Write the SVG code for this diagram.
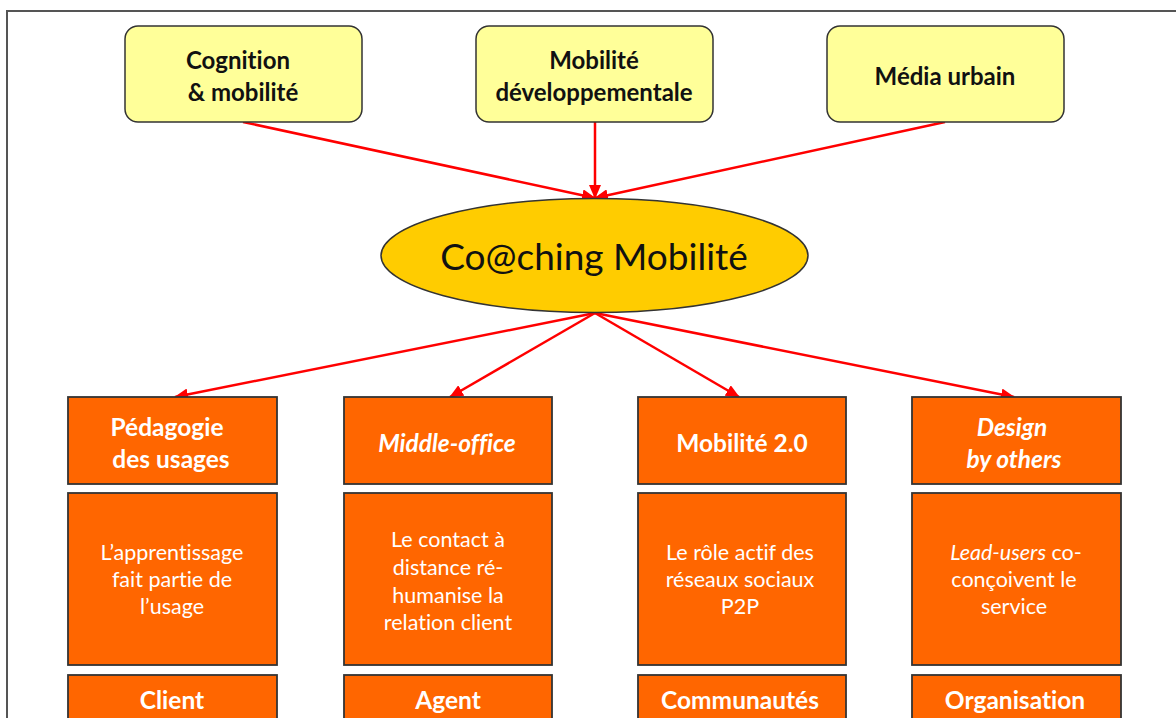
<svg xmlns="http://www.w3.org/2000/svg" width="1176" height="718" viewBox="0 0 1176 718">
<style>
text{font-variant-ligatures:none}
.frame{fill:none;stroke:#555;stroke-width:2}
.top rect{fill:#FFFF99;stroke:#333;stroke-width:1.5}
.top text{font-family:Lato,"Open Sans",sans-serif;font-weight:bold;font-size:24px;fill:#111;text-anchor:middle}
.hub ellipse{fill:#FFCC00;stroke:#333;stroke-width:1.5}
.hub text{font-family:Lato,"Open Sans",sans-serif;font-size:37px;fill:#111;text-anchor:middle}
.box rect{fill:#FF6600;stroke:#333;stroke-width:1.8}
.box text.h{font-family:Lato,"Open Sans",sans-serif;font-weight:bold;font-size:24.5px;fill:#fff;text-anchor:middle}
.box text.b{font-family:Lato,"Open Sans",sans-serif;font-size:21.5px;fill:#fff;text-anchor:middle}
.it{font-style:italic}
.conn line{stroke:#FF0000;stroke-width:2.5;marker-end:url(#ah)}
</style>
<defs>
<marker id="ah" markerUnits="userSpaceOnUse" markerWidth="14" markerHeight="12" viewBox="0 0 14 12" refX="13" refY="6" orient="auto">
<path d="M0,0 L14,6 L0,12 Z" fill="#FF0000"/>
</marker>
</defs>
<rect width="1176" height="718" fill="#fff"/>
<path class="frame" d="M7,718 L7,11 L1176,11"/>

<g class="conn" id="connectors">
<line x1="243" y1="122" x2="595" y2="198"/>
<line x1="595" y1="122" x2="595" y2="198"/>
<line x1="945" y1="122" x2="595" y2="198"/>
<line x1="595" y1="313" x2="175" y2="397"/>
<line x1="595" y1="313" x2="450" y2="397"/>
<line x1="595" y1="313" x2="739" y2="397"/>
<line x1="595" y1="313" x2="1014" y2="397"/>
</g>

<g class="top" id="n-cognition">
<rect x="125" y="26" width="237" height="96" rx="13"/>
<text x="238" y="69">Cognition</text>
<text x="243" y="101">&amp; mobilité</text>
</g>
<g class="top" id="n-mobdev">
<rect x="476" y="26" width="237" height="96" rx="13"/>
<text x="594" y="69">Mobilité</text>
<text x="594" y="101">développementale</text>
</g>
<g class="top" id="n-media">
<rect x="827" y="26" width="237" height="96" rx="13"/>
<text x="945" y="85">Média urbain</text>
</g>

<g class="hub" id="n-coaching">
<ellipse cx="594.5" cy="255.5" rx="213.5" ry="57"/>
<text x="594" y="270">Co@ching Mobilité</text>
</g>

<g class="box" id="n-pedagogie">
<rect x="68" y="397" width="209" height="87"/>
<text class="h" x="167" y="436">Pédagogie</text>
<text class="h" x="171" y="468">des usages</text>
</g>
<g class="box" id="n-pedagogie-desc">
<rect x="68" y="493" width="209" height="172"/>
<text class="b" x="172" y="560">L’apprentissage</text>
<text class="b" x="172" y="587">fait partie de</text>
<text class="b" x="172" y="614">l’usage</text>
</g>
<g class="box" id="n-client">
<rect x="68" y="675" width="209" height="60"/>
<text class="h" x="172" y="709">Client</text>
</g>

<g class="box" id="n-middle">
<rect x="344" y="397" width="208" height="87"/>
<text class="h it" x="447" y="452">Middle-office</text>
</g>
<g class="box" id="n-middle-desc">
<rect x="344" y="493" width="208" height="172"/>
<text class="b" x="448" y="547">Le contact à</text>
<text class="b" x="448" y="575">distance ré-</text>
<text class="b" x="448" y="603">humanise la</text>
<text class="b" x="448" y="630">relation client</text>
</g>
<g class="box" id="n-agent">
<rect x="344" y="675" width="208" height="60"/>
<text class="h" x="448" y="709">Agent</text>
</g>

<g class="box" id="n-mob20">
<rect x="638" y="397" width="208" height="87"/>
<text class="h" x="742" y="452">Mobilité 2.0</text>
</g>
<g class="box" id="n-mob20-desc">
<rect x="638" y="493" width="208" height="172"/>
<text class="b" x="740" y="560">Le rôle actif des</text>
<text class="b" x="740" y="587">réseaux sociaux</text>
<text class="b" x="740" y="614">P2P</text>
</g>
<g class="box" id="n-communautes">
<rect x="638" y="675" width="208" height="60"/>
<text class="h" x="740" y="709">Communautés</text>
</g>

<g class="box" id="n-design">
<rect x="912" y="397" width="209" height="87"/>
<text class="h it" x="1012" y="436">Design</text>
<text class="h it" x="1014" y="468">by others</text>
</g>
<g class="box" id="n-design-desc">
<rect x="912" y="493" width="209" height="172"/>
<text class="b" x="1016" y="560"><tspan class="it">Lead-users</tspan> co-</text>
<text class="b" x="1014" y="587">conçoivent le</text>
<text class="b" x="1014" y="614">service</text>
</g>
<g class="box" id="n-organisation">
<rect x="912" y="675" width="209" height="60"/>
<text class="h" x="1015" y="709">Organisation</text>
</g>
</svg>
